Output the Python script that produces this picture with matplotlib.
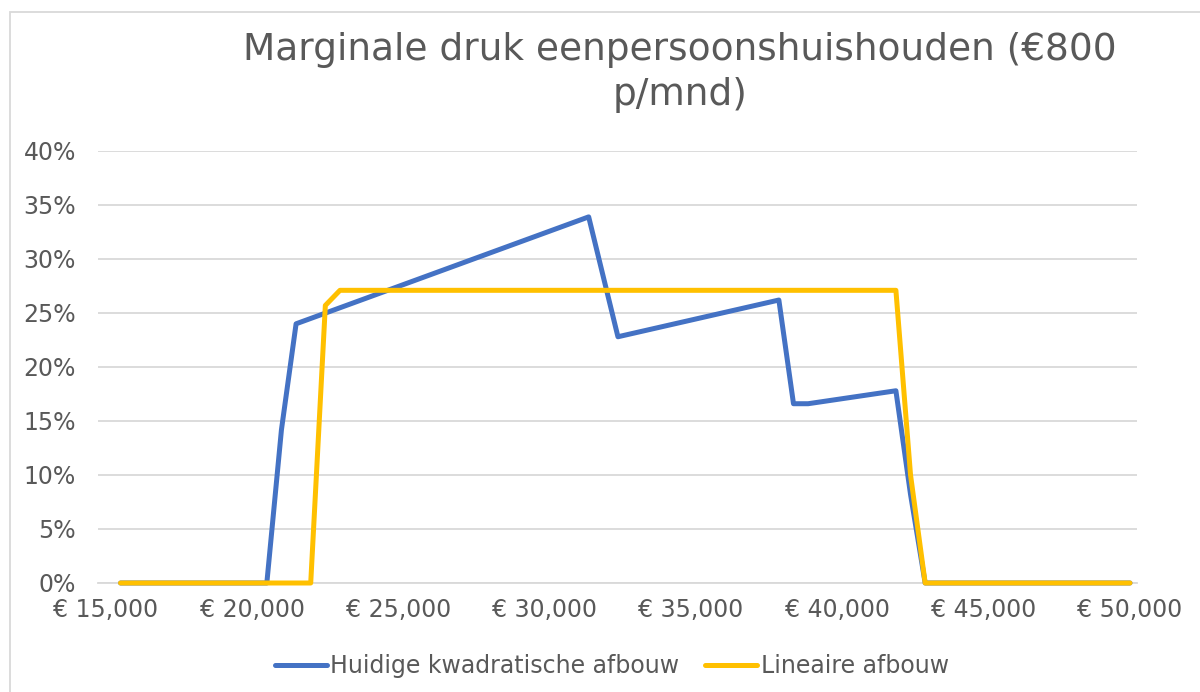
import matplotlib.pyplot as plt
from matplotlib.ticker import FuncFormatter, MultipleLocator
from matplotlib.patches import Rectangle

plt.rcParams['font.family'] = ['DejaVu Sans']

# inkomen (x) en marginale druk (y)
inkomen_kwadratisch = [15500, 20500, 21000, 21500, 31500, 32500, 38000, 38500, 39000, 42000, 42500, 43000, 50000]
druk_kwadratisch = [0.0, 0.0, 0.142, 0.240, 0.339, 0.228, 0.262, 0.166, 0.166, 0.178, 0.082, 0.0, 0.0]

inkomen_lineair = [15500, 22000, 22500, 23000, 42000, 42500, 43000, 50000]
druk_lineair = [0.0, 0.0, 0.257, 0.271, 0.271, 0.10, 0.0, 0.0]

x_ticks = [15000, 20000, 25000, 30000, 35000, 40000, 45000, 50000]

GREY = '#595959'
GRID = '#d9d9d9'

fig = plt.figure(figsize=(12, 6.92), dpi=100)
ax = fig.add_axes([98/1200, 1 - 583/692, (1137-98)/1200, (583-151)/692])

# kader om de grafiek
fig.patches.append(Rectangle((10/1200, -0.1), 1.2, 1 - 12/692 + 0.1, transform=fig.transFigure,
                             fill=False, edgecolor=GRID, linewidth=1.3))

ax.plot(inkomen_kwadratisch, druk_kwadratisch, color='#4472C4', linewidth=3.6, zorder=3, clip_on=False,
        solid_joinstyle='round', solid_capstyle='round', label='Huidige kwadratische afbouw')
ax.plot(inkomen_lineair, druk_lineair, color='#FFC000', linewidth=3.6, zorder=3, clip_on=False,
        solid_joinstyle='round', solid_capstyle='round', label='Lineaire afbouw')

ax.set_xlim(14730, 50240)
ax.set_ylim(0, 0.4)
ax.set_xticks(x_ticks)
ax.yaxis.set_major_locator(MultipleLocator(0.05))
ax.xaxis.set_major_formatter(FuncFormatter(lambda v, p: '€ {:,.0f}'.format(v)))
ax.yaxis.set_major_formatter(FuncFormatter(lambda v, p: '{:.0f}%'.format(v * 100)))

ax.grid(axis='y', color=GRID, linewidth=1.3)
ax.set_axisbelow(True)
for s in ['top', 'right', 'left']:
    ax.spines[s].set_visible(False)
ax.spines['bottom'].set_color(GRID)
ax.spines['bottom'].set_linewidth(1.3)
ax.spines['bottom'].set_zorder(1)
ax.tick_params(axis='both', length=0, labelsize=17, labelcolor=GREY)
ax.tick_params(axis='y', pad=16)
ax.tick_params(axis='x', pad=11)

fig.text(680/1200, 1 - 32/692, 'Marginale druk eenpersoonshuishouden (€800\np/mnd)',
         ha='center', va='top', fontsize=27, color=GREY, linespacing=1.32)

ax.legend(loc='center', bbox_to_anchor=(612/1200, 1 - 666/692), bbox_transform=fig.transFigure,
          ncol=2, frameon=False, fontsize=17, labelcolor=GREY, handlelength=2.2,
          handletextpad=0.15, columnspacing=1.1)

plt.savefig('out.png', dpi=100)
